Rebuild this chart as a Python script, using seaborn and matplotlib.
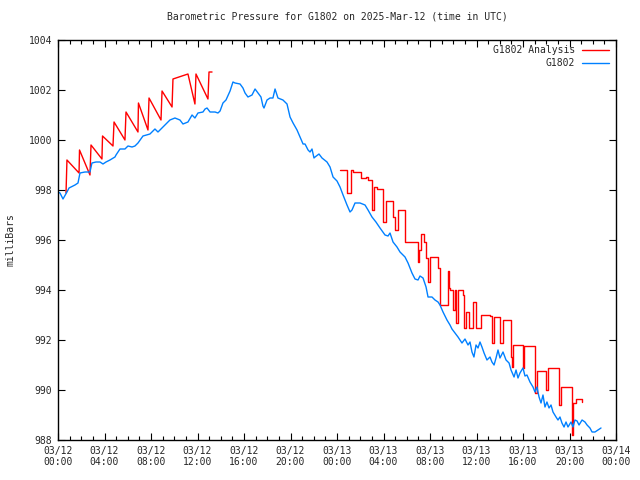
import matplotlib
matplotlib.use('Agg')
import matplotlib.pyplot as plt
from matplotlib.ticker import MultipleLocator
import seaborn as sns
import pandas as pd

# hours since 2025-03-12 00:00 UTC
obs_hours = [0, 0.17, 0.43, 0.77, 0.95, 1.46, 1.72, 1.89, 2.32, 2.75, 2.92, 3.27, 3.61, 3.87,
             4.13, 4.47, 4.90, 4.99, 5.33, 5.76, 6.02, 6.37, 6.62, 6.88, 7.31, 7.91, 8.34,
             8.60, 9.20, 9.63, 10.06, 10.49, 10.75, 11.18, 11.53, 11.78, 12.04, 12.47, 12.65,
             12.82, 13.08, 13.51, 13.76, 13.94, 14.19, 14.45, 14.80, 15.05, 15.23, 15.66,
             15.91, 16.09, 16.34, 16.69, 16.95, 17.20, 17.46, 17.63, 17.72, 17.98, 18.24,
             18.49, 18.67, 18.92, 19.35, 19.70, 19.96, 20.22, 20.56, 20.82, 21.08, 21.25,
             21.51, 21.68, 21.85, 22.02, 22.11, 22.45, 22.71, 23.14, 23.40, 23.66, 24.00,
             24.26, 24.52, 24.86, 25.12, 25.29, 25.55, 25.98, 26.41, 26.67, 27.01, 27.35,
             27.70, 28.13, 28.39, 28.56, 28.82, 29.16, 29.42, 29.85, 30.11, 30.45, 30.71,
             30.97, 31.14, 31.40, 31.66, 31.83, 32.17, 32.43, 32.69, 32.86, 33.12, 33.46,
             33.72, 33.89, 34.15, 34.41, 34.75, 35.01, 35.27, 35.44, 35.61, 35.78, 35.96,
             36.13, 36.30, 36.47, 36.65, 36.90, 37.16, 37.33, 37.51, 37.68, 37.85, 38.02,
             38.28, 38.54, 38.80, 38.97, 39.23, 39.40, 39.57, 39.74, 40.00, 40.17, 40.34,
             40.60, 40.86, 41.03, 41.20, 41.38, 41.55, 41.72, 41.89, 42.06, 42.24, 42.41,
             42.58, 42.84, 43.01, 43.18, 43.35, 43.53, 43.70, 43.87, 44.13, 44.30, 44.47,
             44.65, 44.82, 45.08, 45.33, 45.51, 45.76, 45.94, 46.19, 46.45, 46.71]
obs_mb = [997.92, 997.88, 997.64, 997.92, 998.08, 998.2, 998.28, 998.68, 998.72, 998.72,
          999.08, 999.12, 999.12, 999.04, 999.12, 999.2, 999.32, 999.4, 999.64, 999.64,
          999.76, 999.72, 999.76, 999.88, 1000.16, 1000.24, 1000.44, 1000.32, 1000.6, 1000.8,
          1000.88, 1000.8, 1000.64, 1000.72, 1001.0, 1000.88, 1001.08, 1001.12, 1001.24,
          1001.28, 1001.12, 1001.12, 1001.08, 1001.16, 1001.48, 1001.6, 1001.96, 1002.32,
          1002.28, 1002.24, 1002.08, 1001.88, 1001.72, 1001.8, 1002.04, 1001.88, 1001.72,
          1001.36, 1001.28, 1001.6, 1001.68, 1001.68, 1002.04, 1001.68, 1001.6, 1001.44,
          1000.92, 1000.68, 1000.4, 1000.12, 999.84, 999.84, 999.6, 999.52, 999.64, 999.28,
          999.32, 999.44, 999.28, 999.12, 998.92, 998.52, 998.36, 998.12, 997.8, 997.4,
          997.12, 997.2, 997.48, 997.48, 997.4, 997.2, 996.92, 996.72, 996.48, 996.2, 996.16,
          996.28, 995.92, 995.72, 995.52, 995.32, 995.08, 994.68, 994.44, 994.4, 994.56,
          994.48, 994.12, 993.72, 993.72, 993.6, 993.52, 993.4, 993.12, 992.8, 992.6, 992.44,
          992.28, 992.12, 991.88, 992.04, 991.8, 991.92, 991.52, 991.32, 991.8, 991.68,
          991.92, 991.72, 991.48, 991.2, 991.32, 991.12, 991.0, 991.28, 991.6, 991.28,
          991.52, 991.2, 991.08, 990.8, 990.52, 990.8, 990.48, 990.68, 990.88, 990.56, 990.6,
          990.32, 990.12, 989.92, 990.12, 989.72, 989.48, 989.8, 989.32, 989.52, 989.28,
          989.4, 989.12, 988.92, 988.8, 988.92, 988.68, 988.52, 988.72, 988.52, 988.72,
          988.52, 988.8, 988.76, 988.6, 988.8, 988.72, 988.6, 988.48, 988.32, 988.32, 988.4,
          988.48]

# analysis, first stretch (hourly sawtooth)
ana1_hours = [0.69, 0.77, 1.81, 1.85, 2.75, 2.84, 3.78, 3.83, 4.73, 4.82, 5.76, 5.85, 6.88,
              6.92, 7.74, 7.83, 8.86, 8.95, 9.81, 9.89, 11.18, 11.78, 11.87, 12.90, 12.99,
              13.25]
ana1_mb = [997.88, 999.2, 998.68, 999.6, 998.6, 999.8, 999.24, 1000.16, 999.76, 1000.72,
           1000.0, 1001.12, 1000.32, 1001.48, 1000.4, 1001.68, 1000.8, 1001.96, 1001.32,
           1002.44, 1002.64, 1001.44, 1002.64, 1001.64, 1002.72, 1002.72]

# analysis, second stretch (stepped)
ana2_hours = [24.26, 24.86, 25.20, 25.38, 26.06, 26.49, 26.67, 27.01, 27.18, 27.44, 27.96,
              28.22, 28.82, 28.99, 29.25, 29.85, 30.97, 31.05, 31.23, 31.48, 31.66, 31.83,
              32.00, 32.69, 32.86, 33.55, 33.63, 33.72, 33.98, 34.15, 34.24, 34.41, 34.84,
              34.92, 35.10, 35.35, 35.70, 35.96, 36.39, 37.16, 37.33, 37.51, 38.02, 38.28,
              38.97, 39.05, 39.14, 40.00, 40.09, 41.03, 41.20, 41.98, 42.15, 43.10, 43.27,
              44.22, 44.30, 44.56, 45.08]
ana2_mb = [998.8, 997.88, 998.8, 998.72, 998.48, 998.52, 998.4, 997.2, 998.12, 998.04,
           996.72, 997.56, 996.92, 996.4, 997.2, 995.92, 995.12, 995.6, 996.24, 995.92,
           995.28, 994.32, 995.32, 994.88, 993.4, 994.76, 994.08, 994.0, 993.2, 994.0,
           992.68, 994.0, 993.8, 992.48, 993.12, 992.48, 993.52, 992.48, 993.0, 992.96,
           991.88, 992.92, 991.88, 992.8, 991.32, 990.92, 991.8, 990.88, 991.76, 989.88,
           990.76, 990.0, 990.88, 989.4, 990.12, 988.2, 989.48, 989.64, 989.52]

tick_labels = ['03/12\n00:00', '03/12\n04:00', '03/12\n08:00', '03/12\n12:00', '03/12\n16:00',
               '03/12\n20:00', '03/13\n00:00', '03/13\n04:00', '03/13\n08:00', '03/13\n12:00',
               '03/13\n16:00', '03/13\n20:00', '03/14\n00:00']

sns.set_style('ticks')
plt.rcParams['font.family'] = ['DejaVu Sans Mono']
plt.rcParams['font.size'] = 7

obs_df = pd.DataFrame({'hour': obs_hours, 'mb': obs_mb})
ana1_df = pd.DataFrame({'hour': ana1_hours, 'mb': ana1_mb})
ana2_df = pd.DataFrame({'hour': ana2_hours, 'mb': ana2_mb})

red = '#ff0000'
blue = '#0080ff'

fig = plt.figure(figsize=(6.4, 4.8), dpi=100)
ax = fig.add_axes([58 / 640, 40 / 480, 558 / 640, 400 / 480])

sns.lineplot(data=ana1_df, x='hour', y='mb', ax=ax, color=red, lw=1,
             estimator=None, sort=False)
sns.lineplot(data=ana2_df, x='hour', y='mb', ax=ax, color=red, lw=1,
             estimator=None, sort=False, drawstyle='steps-post')
sns.lineplot(data=obs_df, x='hour', y='mb', ax=ax, color=blue, lw=1,
             estimator=None, sort=False)

ax.set_xlim(0, 48)
ax.set_ylim(988, 1004)
ax.set_xticks(range(0, 49, 4))
ax.set_xticklabels(tick_labels)
ax.xaxis.set_minor_locator(MultipleLocator(1))
ax.set_yticks(range(988, 1005, 2))
ax.tick_params(which='both', direction='in', top=True, right=True, labelsize=7,
               color='black', width=0.8)
ax.tick_params(which='major', length=5, pad=4)
ax.tick_params(which='minor', length=3)
for s in ax.spines.values():
    s.set_color('black')
    s.set_linewidth(1)

ax.set_xlabel('')
ax.set_ylabel('milliBars', fontsize=7)
ax.yaxis.set_label_coords(-0.077, 0.5)
ax.set_title('Barometric Pressure for G1802 on 2025-Mar-12 (time in UTC)', fontsize=7, pad=15)

# key, gnuplot style: text right-aligned, sample line to the right
ax.text(0.927, 0.975, 'G1802 Analysis', transform=ax.transAxes, ha='right', va='center', fontsize=7)
ax.plot([0.939, 0.987], [0.975, 0.975], transform=ax.transAxes, color=red, lw=1)
ax.text(0.927, 0.9425, 'G1802', transform=ax.transAxes, ha='right', va='center', fontsize=7)
ax.plot([0.939, 0.987], [0.9425, 0.9425], transform=ax.transAxes, color=blue, lw=1)

fig.savefig('out.png', dpi=100)
